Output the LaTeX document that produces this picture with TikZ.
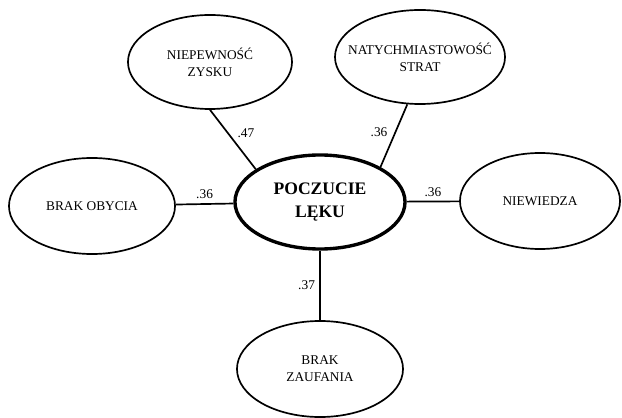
\documentclass[tikz,border=0pt]{standalone}
\usepackage{fontspec}
\setmainfont{Liberation Serif}
\usetikzlibrary{shapes.geometric}
\tikzset{
  czynnik/.style={draw, ellipse, line width=1.2pt, inner sep=-12pt, align=center,
    minimum width=4.15cm, minimum height=2.4cm, font=\fontsize{9.5}{12}\selectfont},
  lacznik/.style={line width=1.2pt},
  waga/.style={font=\fontsize{9.5}{11}\selectfont, inner sep=1pt}
}
\begin{document}
\begin{tikzpicture}[x=0.025cm,y=-0.025cm]
\useasboundingbox (0,0) rectangle (622,418);
\node[czynnik, line width=2.4pt, minimum width=4.25cm, minimum height=2.35cm,
  font=\fontsize{12.5}{16}\selectfont\bfseries] (lek) at (320,202) {POCZUCIE\\LĘKU}; %srodek
\node[czynnik, minimum width=4.1cm, minimum height=2.35cm] (zysk) at (210,62) {NIEPEWNOŚĆ\\ZYSKU}; %gora lewo
\node[czynnik, minimum width=4.25cm, minimum height=2.35cm] (strata) at (420,57) {NATYCHMIASTOWOŚĆ\\STRAT}; %gora prawo
\node[czynnik] (obycie) at (92,206) {BRAK OBYCIA}; %lewo
\node[czynnik, minimum width=4cm] (wiedza) at (540,201) {NIEWIEDZA}; %prawo
\node[czynnik] (zaufanie) at (320,369) {BRAK\\ZAUFANIA}; %dol
\draw[lacznik] (zysk.south) -- node[waga, pos=.4, right=5pt] (w1) {.47} (lek.153);
\draw[lacznik] (strata.255) -- node[waga, pos=.45, left=4pt] (w2) {.36} (lek.30);
\draw[lacznik] (obycie) -- node[waga, midway, above=2pt] (w3) {.36} (lek);
\draw[lacznik] (lek) -- node[waga, midway, above=2pt] (w4) {.36} (wiedza);
\draw[lacznik] (lek) -- node[waga, pos=.5, left=2pt] (w5) {.37} (zaufanie);
\end{tikzpicture}
\end{document}
